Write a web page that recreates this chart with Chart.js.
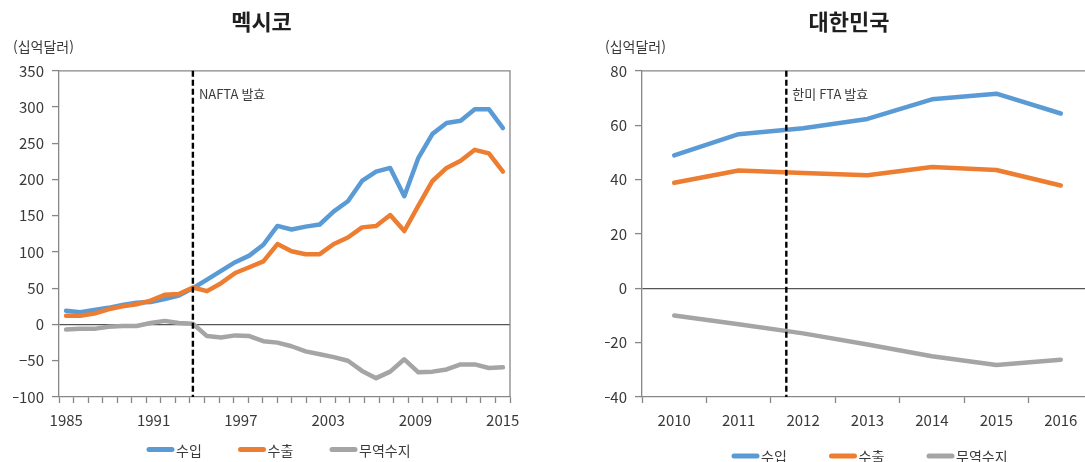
<!DOCTYPE html>
<html lang="ko">
<head>
<meta charset="utf-8">
<title>멕시코 · 대한민국 대미 교역</title>
<script src="https://cdn.jsdelivr.net/npm/chart.js@4.4.1/dist/chart.umd.min.js"></script>
<style>
  html, body { margin: 0; padding: 0; background: #fff; }
  #wrap { position: relative; width: 1085px; height: 462px; overflow: hidden; }
  #mx { position: absolute; left: 0; top: 0; }
  #ko { position: absolute; left: 583px; top: 0; }
</style>
</head>
<body>
<div id="wrap">
  <canvas id="mx" width="532" height="462"></canvas>
  <canvas id="ko" width="532" height="462"></canvas>
</div>
<script>
// 멕시코 데이터 (1985~2016)
const mxYears = ['1985', '1986', '1987', '1988', '1989', '1990', '1991', '1992', '1993', '1994',
  '1995', '1996', '1997', '1998', '1999', '2000', '2001', '2002', '2003', '2004', '2005',
  '2006', '2007', '2008', '2009', '2010', '2011', '2012', '2013', '2014', '2015', '2016'];
// 축 눈금 라벨 (원본 그림처럼 1985~2015)
const mxTickYears = ['1985', '1986', '1987', '1988', '1989', '1990', '1991', '1992', '1993', '1994',
  '1995', '1996', '1997', '1998', '1999', '2000', '2001', '2002', '2003', '2004', '2005',
  '2006', '2007', '2008', '2009', '2010', '2011', '2012', '2013', '2014', '2015'];
const mxImport = [19, 17, 20, 23, 27, 30, 31, 35, 40, 50, 62, 74, 86, 95, 110, 136, 131, 135, 138, 156, 170,
  198, 211, 216, 177, 230, 263, 278, 281, 297, 297, 271];
const mxExport = [12, 12, 15, 21, 25, 28, 33, 41, 42, 51, 46, 57, 71, 79, 87, 111, 101, 97, 97, 111, 120,
  134, 136, 151, 129, 164, 198, 216, 226, 241, 236, 211];
const mxBalance = [-7, -6, -6, -3, -2, -2, 2, 5, 2, 1, -16, -18, -15, -16, -23, -25, -30, -37, -41, -45, -50,
  -64, -74, -65, -48, -66, -65, -62, -55, -55, -60, -59];
const mxEvent = { after: '1994', frac: 0, text: 'NAFTA 발효' };

// 대한민국 데이터 (2010~2016)
const koYears = ['2010', '2011', '2012', '2013', '2014', '2015', '2016'];
const koImport = [48.9, 56.7, 58.9, 62.3, 69.5, 71.6, 64.3];
const koExport = [38.8, 43.3, 42.4, 41.6, 44.6, 43.5, 37.8];
const koBalance = [-10.0, -13.2, -16.6, -20.7, -25.0, -28.2, -26.3];
const koEvent = { after: '2011', frac: 0.74, text: '한미 FTA 발효' };

const FONT = '"Noto Sans CJK KR", "Noto Sans", sans-serif';
const AXIS = '#878787';
const TXT = '#3a3a3a';
const BLUE = '#5B9BD5', ORANGE = '#ED7D31', GRAY = '#A5A5A5';

// 테두리 + 발효 시점 점선
const frameLines = {
  id: 'frameLines',
  beforeDatasetsDraw(chart) {
    const { ctx, chartArea: a } = chart;
    ctx.save();
    ctx.strokeStyle = AXIS;
    ctx.lineWidth = 1.3;
    ctx.beginPath();
    ctx.moveTo(a.left, a.top);
    ctx.lineTo(a.right, a.top);
    ctx.lineTo(a.right, a.bottom);
    ctx.stroke();
    ctx.restore();
  },
  afterDatasetsDraw(chart, args, opts) {
    const { ctx, chartArea: a } = chart;
    const sx = chart.scales.x;
    const i = sx.getLabels().indexOf(opts.after);
    const p0 = sx.getPixelForValue(i);
    const p1 = sx.getPixelForValue(i + 1);
    const px = p0 + (p1 - p0) * opts.frac;
    ctx.save();
    ctx.strokeStyle = '#000';
    ctx.lineWidth = 2.4;
    ctx.setLineDash([6, 3]);
    ctx.beginPath();
    ctx.moveTo(px, a.top);
    ctx.lineTo(px, a.bottom);
    ctx.stroke();
    ctx.setLineDash([]);
    ctx.fillStyle = TXT;
    ctx.font = '13px ' + FONT;
    ctx.textBaseline = 'middle';
    ctx.fillText(opts.text, px + 6, a.top + 23);
    ctx.restore();
  }
};

// 아래쪽 범례 (선 + 글자, 간격 고정)
const lineLegend = {
  id: 'lineLegend',
  afterDraw(chart, args, opts) {
    const { ctx, chartArea: a } = chart;
    let x = a.left + opts.start;
    ctx.save();
    ctx.font = '14px ' + FONT;
    ctx.textBaseline = 'middle';
    chart.data.datasets.forEach(ds => {
      ctx.strokeStyle = ds.borderColor;
      ctx.lineWidth = 5;
      ctx.lineCap = 'round';
      ctx.beginPath();
      ctx.moveTo(x + 2, opts.y);
      ctx.lineTo(x + 25, opts.y);
      ctx.stroke();
      ctx.fillStyle = TXT;
      ctx.fillText(ds.label, x + 29, opts.y + 1);
      x += opts.pitch;
    });
    ctx.restore();
  }
};

function lineSet(label, data, color, order) {
  return {
    label, data, order,
    borderColor: color,
    backgroundColor: color,
    borderWidth: 4.5,
    pointRadius: 0,
    pointHoverRadius: 0,
    tension: 0,
    borderCapStyle: 'round',
    borderJoinStyle: 'round',
    fill: false
  };
}

const minus = v => String(v).replace('-', '\u2212');

function baseOptions(title, padLeft, event, legend) {
  return {
    responsive: false,
    animation: false,
    layout: { padding: { left: padLeft, right: 22, top: 0, bottom: 0 } },
    plugins: {
      title: {
        display: true, text: title, color: '#1f1f1f',
        font: { family: FONT, size: 22, weight: 'bold' },
        padding: { top: 8, bottom: 4 }
      },
      subtitle: {
        display: true, text: '(십억달러)', align: 'start', color: TXT,
        font: { family: FONT, size: 14 },
        padding: { top: 0, bottom: 15.6 }
      },
      legend: { display: false },
      tooltip: { enabled: false },
      frameLines: event,
      lineLegend: legend
    }
  };
}

function yScale(min, max, step, width) {
  return {
    min, max,
    ticks: { stepSize: step, padding: 8, color: TXT, font: { family: FONT, size: 15 }, callback: minus },
    grid: {
      color: c => (c.tick && c.tick.value === 0 ? '#555' : 'rgba(0,0,0,0)'),
      lineWidth: 1.2,
      tickColor: AXIS,
      tickWidth: 1.3,
      tickLength: 7
    },
    border: { color: AXIS, width: 1.3 },
    afterFit: s => { s.width = width; }
  };
}

function xTickGrid() {
  return { offset: true, drawOnChartArea: false, tickLength: 6, tickColor: AXIS, tickWidth: 1.3 };
}

// 멕시코
const mxOpts = baseOptions('멕시코', 13, mxEvent, { start: 88, pitch: 91.5, y: 449.5 });
mxOpts.scales = {
  x: { type: 'category', display: false, offset: true },
  xl: {
    type: 'category',
    labels: mxTickYears,
    position: 'bottom',
    offset: true,
    grid: xTickGrid(),
    border: { color: AXIS, width: 1.3 },
    ticks: {
      autoSkip: false, maxRotation: 0, padding: 8, color: TXT,
      font: { family: FONT, size: 15 },
      callback: (v, i) => (i % 6 === 0 ? mxTickYears[i] : '')
    },
    afterFit: s => { s.height = 65; }
  },
  y: yScale(-100, 350, 50, 46)
};

new Chart(document.getElementById('mx'), {
  type: 'line',
  data: {
    labels: mxYears,
    datasets: [
      lineSet('수입', mxImport, BLUE, 2),
      lineSet('수출', mxExport, ORANGE, 1),
      lineSet('무역수지', mxBalance, GRAY, 0)
    ]
  },
  options: mxOpts,
  plugins: [frameLines, lineLegend]
});

// 대한민국
const koOpts = baseOptions('대한민국', 22, koEvent, { start: 90, pitch: 97.5, y: 456 });
koOpts.scales = {
  x: {
    type: 'category',
    offset: true,
    grid: xTickGrid(),
    border: { color: AXIS, width: 1.3 },
    ticks: { maxRotation: 0, padding: 8, color: TXT, font: { family: FONT, size: 15 } },
    afterFit: s => { s.height = 65; }
  },
  y: yScale(-40, 80, 20, 37)
};

new Chart(document.getElementById('ko'), {
  type: 'line',
  data: {
    labels: koYears,
    datasets: [
      lineSet('수입', koImport, BLUE, 2),
      lineSet('수출', koExport, ORANGE, 1),
      lineSet('무역수지', koBalance, GRAY, 0)
    ]
  },
  options: koOpts,
  plugins: [frameLines, lineLegend]
});
</script>
</body>
</html>
